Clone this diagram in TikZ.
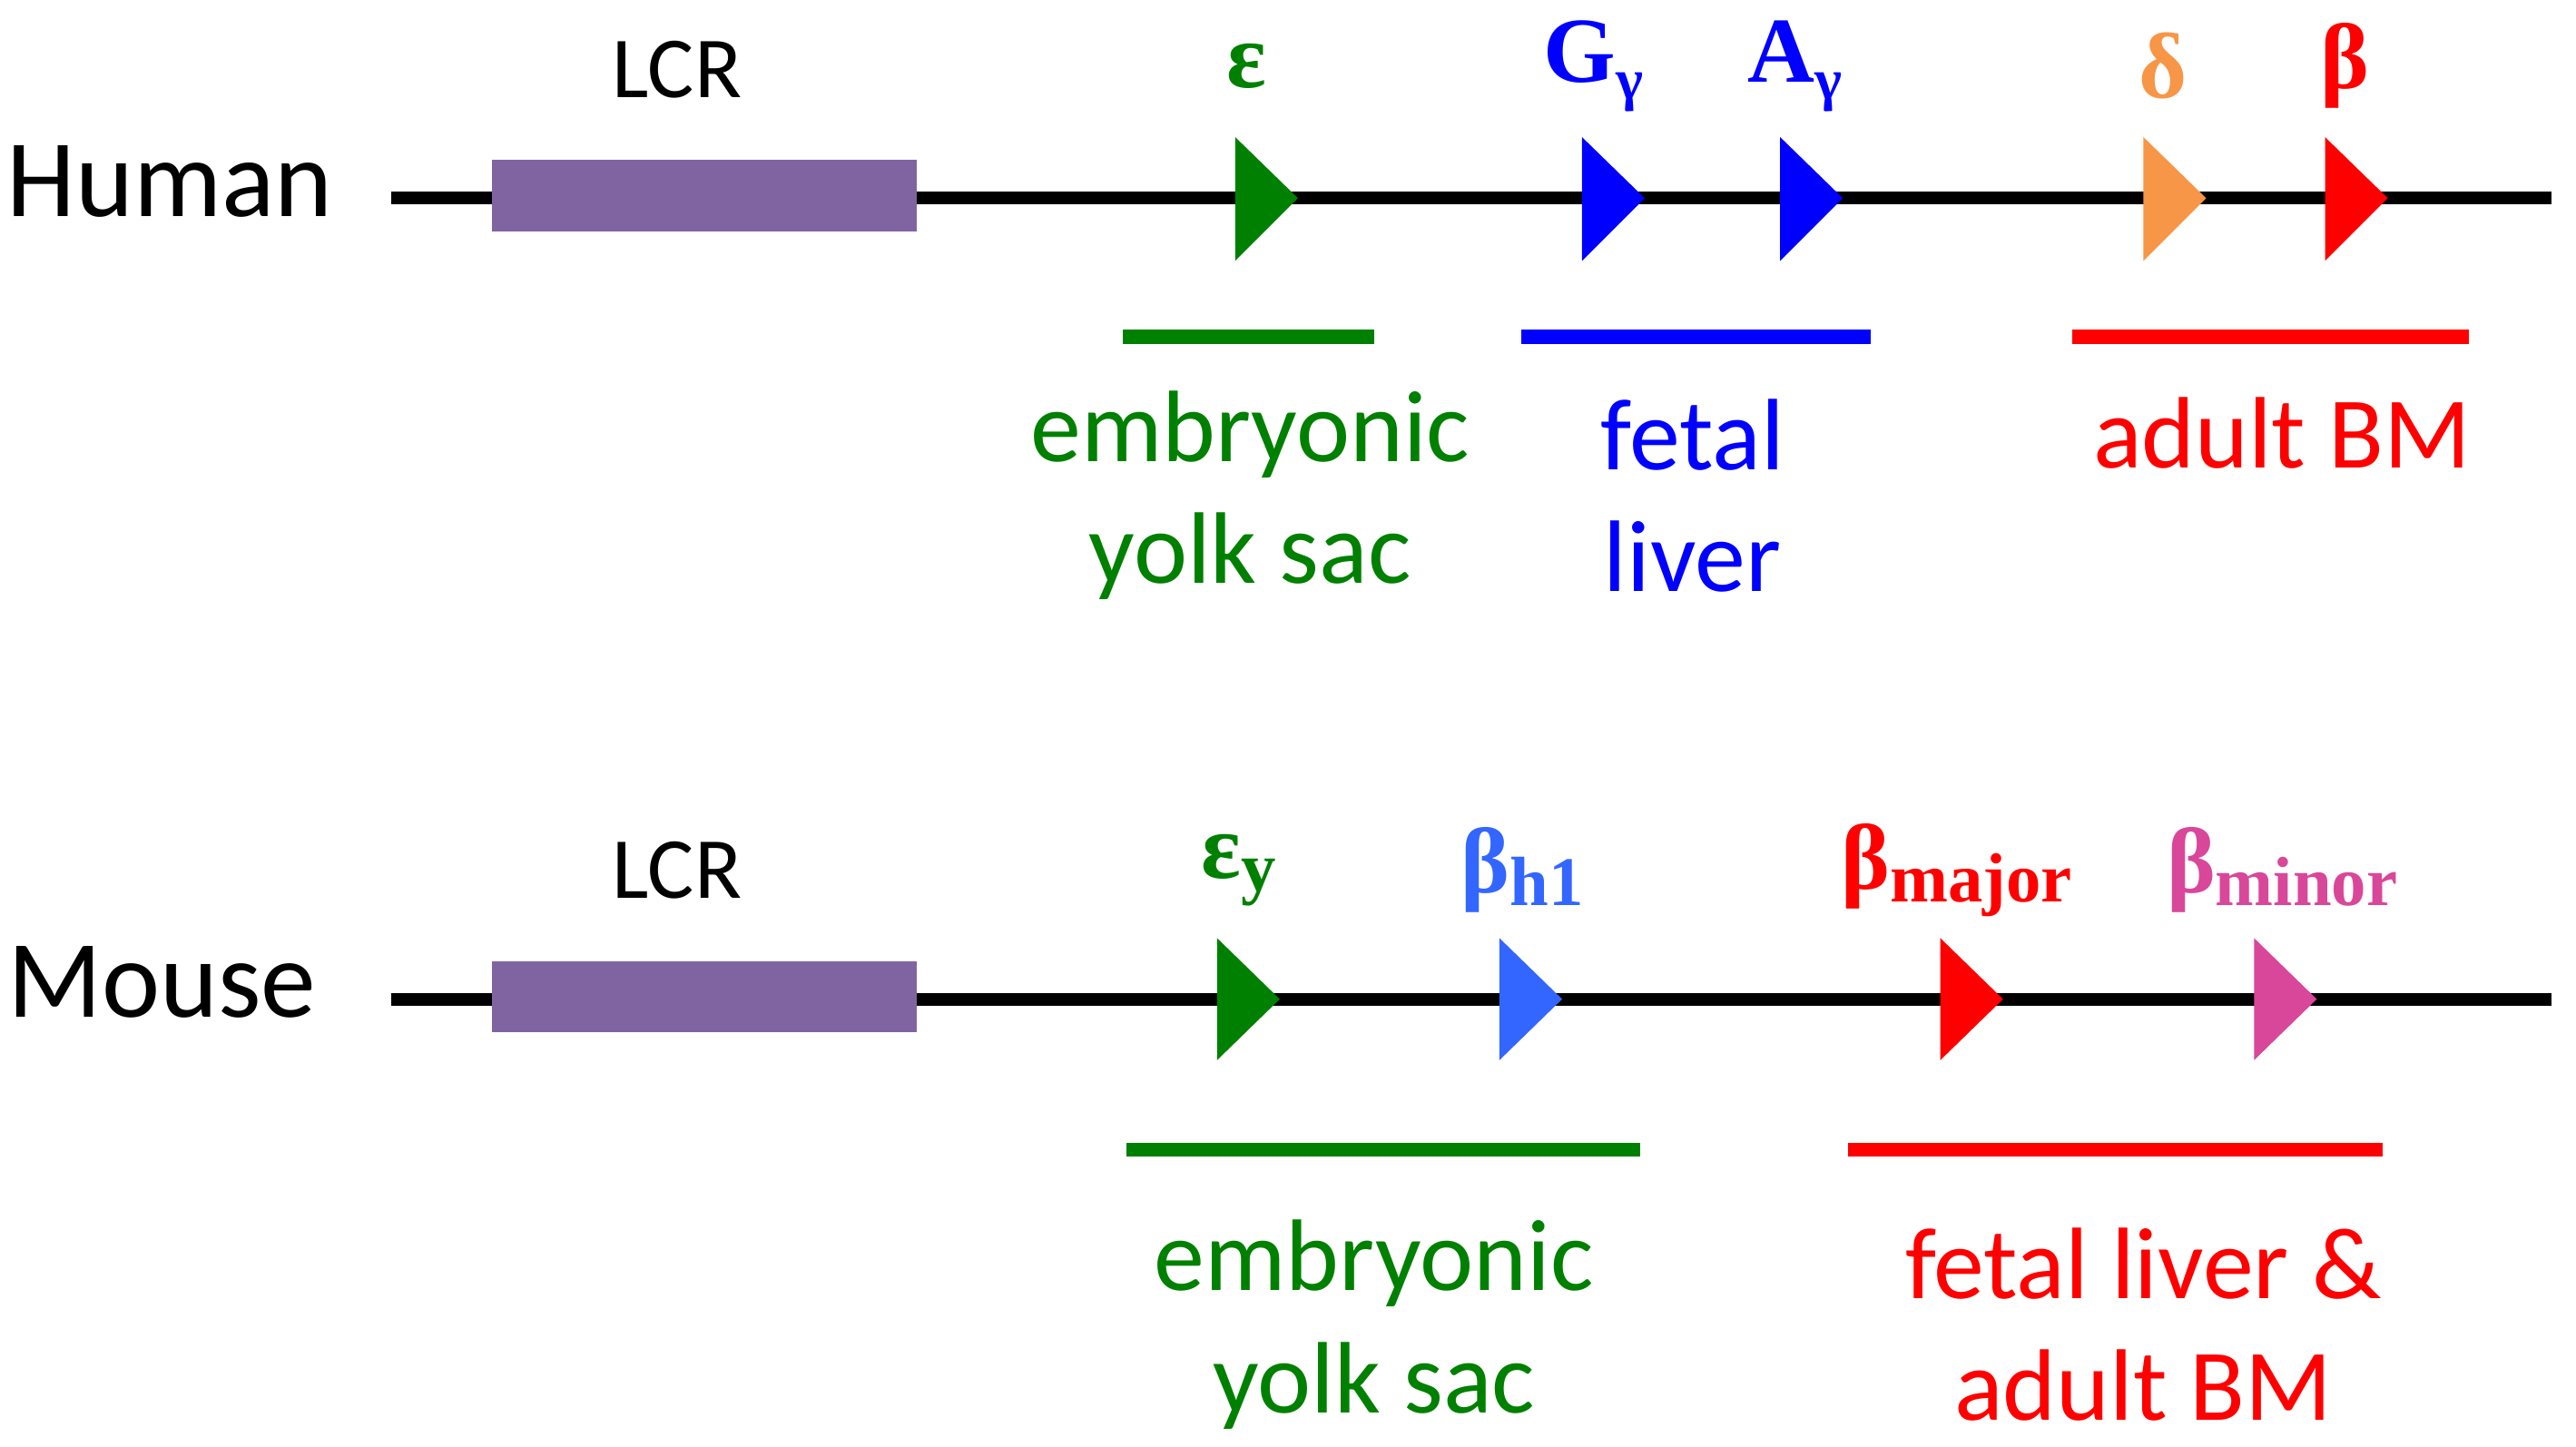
\documentclass[tikz,border=0pt]{standalone}
\usepackage{fontspec}
\setmainfont{Carlito}
\newfontfamily\gf{Liberation Serif}
\definecolor{lcr}{HTML}{8064A2}
\definecolor{gr}{HTML}{008000}
\definecolor{bl}{HTML}{0000FF}
\definecolor{lb}{HTML}{3366FF}
\definecolor{og}{HTML}{F79646}
\definecolor{rd}{HTML}{FF0000}
\definecolor{pk}{HTML}{D9479A}
\begin{document}
\begin{tikzpicture}[x=0.01cm,y=-0.01cm,
 chrom/.style={line width=2.2pt,black},
 box/.style={fill=lcr,draw=none},
 tri/.style={fill=#1,draw=none},
 bar/.style={draw=#1,line width=2.4pt},
 big/.style={font=\fontsize{19}{20}\selectfont},
 lbl/.style={font=\fontsize{17.5}{21}\selectfont,align=center,text=#1},
 lcrt/.style={font=\fontsize{15}{16}\selectfont},
 gene/.style={font=\gf\bfseries\fontsize{16}{18}\selectfont,text=#1}]
\useasboundingbox (0,0) rectangle (1560,876);
% Human
\node[big] (hum) at (103,110) {Human};
\coordinate (h0) at (237,120); \coordinate (h1) at (1545,120);
\draw[chrom] (h0) -- (h1);
\node[box,minimum width=2.57cm,minimum height=0.43cm,inner sep=0] (hl) at (426.5,118.5) {};
\node[lcrt] (hlt) at (410,42) {LCR};
\foreach \x/\c [count=\i] in {748/gr,958/bl,1078/bl,1298/og,1408/rd}
  \fill[tri=\c] (\x,83) -- (\x+38,120) -- (\x,158) -- cycle;
\node[gene=gr] (e) at (755,40) {ε};
\node[gene=bl] (gg) at (965,40) {G\raisebox{-0.4ex}{\fontsize{10}{10}\selectfont γ}};
\node[gene=bl] (ag) at (1087,40) {A\raisebox{-0.4ex}{\fontsize{10}{10}\selectfont γ}};
\node[gene=og] (d) at (1310,40) {δ};
\node[gene=rd] (b) at (1420,40) {β};
\draw[bar=gr] (680,204) -- (832,204);
\draw[bar=bl] (921,204) -- (1133,204);
\draw[bar=rd] (1255,204) -- (1495,204);
\node[lbl=gr] (t1) at (757,300) {embryonic\\yolk sac};
\node[lbl=bl] (t2) at (1025,300) {fetal\\liver};
\node[lbl=rd] (t3) at (1382,262) {adult BM};
% Mouse
\node[big] (mou) at (98,595) {Mouse};
\coordinate (m0) at (237,605); \coordinate (m1) at (1545,605);
\draw[chrom] (m0) -- (m1);
\node[box,minimum width=2.57cm,minimum height=0.43cm,inner sep=0] (ml) at (426.5,603.5) {};
\node[lcrt] (mlt) at (410,527) {LCR};
\foreach \x/\c in {737/gr,908/lb,1175/rd,1365/pk}
  \fill[tri=\c] (\x,568) -- (\x+38,605) -- (\x,642) -- cycle;
\node[gene=gr] (ey) at (750,527) {ε\raisebox{-0.3ex}{\fontsize{12}{12}\selectfont y}};
\node[gene=lb] (bh) at (922,527) {β\raisebox{-0.3ex}{\fontsize{12}{12}\selectfont h1}};
\node[gene=rd] (bma) at (1185,527) {β\raisebox{-0.3ex}{\fontsize{12}{12}\selectfont major}};
\node[gene=pk] (bmi) at (1382,527) {β\raisebox{-0.3ex}{\fontsize{12}{12}\selectfont minor}};
\draw[bar=gr] (682,696) -- (993,696);
\draw[bar=rd] (1119,696) -- (1443,696);
\node[lbl=gr] (t4) at (832,802) {embryonic\\yolk sac};
\node[lbl=rd] (t5) at (1298,802) {fetal liver \&\\adult BM};
\end{tikzpicture}
\end{document}
